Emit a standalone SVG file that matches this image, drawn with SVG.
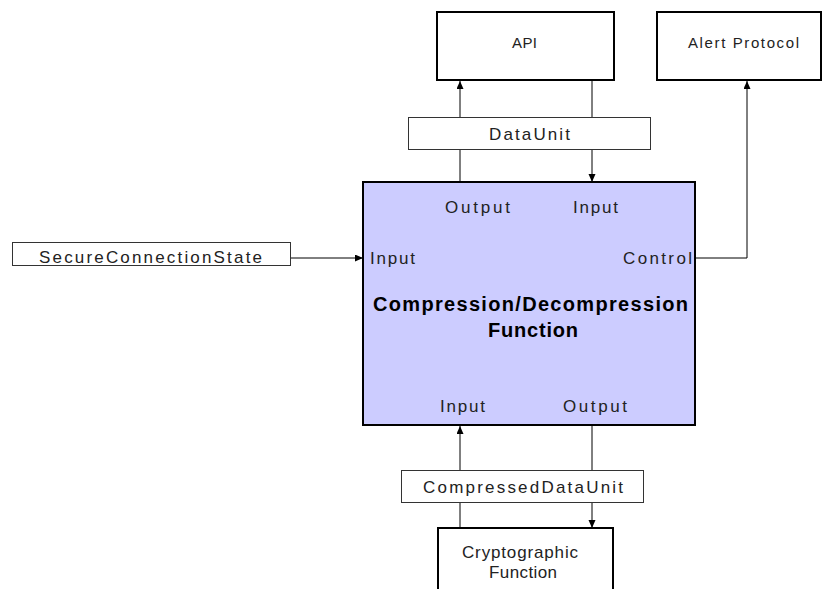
<svg xmlns="http://www.w3.org/2000/svg" width="823" height="589" viewBox="0 0 823 589">
  <style>
    .box { fill: #ffffff; stroke: #000000; stroke-width: 2; }
    .tag { fill: #ffffff; stroke: #333333; stroke-width: 1; }
    .main { fill: #ccccff; stroke: #000000; stroke-width: 2; }
    .wire { fill: none; stroke: #000000; stroke-width: 1; }
    text { font-family: "Liberation Sans", Arial, sans-serif; font-size: 17px; fill: #222222; }
    .small { font-size: 15px; }
    .title { font-size: 20px; font-weight: bold; fill: #000000; }
  </style>
  <defs>
    <marker id="arrow" markerUnits="userSpaceOnUse" markerWidth="8" markerHeight="8" refX="8" refY="3.5" orient="auto">
      <path d="M0,0 L8,3.5 L0,7 z" fill="#000000"/>
    </marker>
  </defs>

  <rect width="823" height="589" fill="#ffffff"/>

  <!-- connectors -->
  <g id="connectors">
    <line class="wire" x1="460" y1="182" x2="460" y2="81" marker-end="url(#arrow)"/>
    <line class="wire" x1="592" y1="81" x2="592" y2="182" marker-end="url(#arrow)"/>
    <polyline class="wire" points="695,258 747,258 747,81" marker-end="url(#arrow)"/>
    <line class="wire" x1="290" y1="258" x2="363" y2="258" marker-end="url(#arrow)"/>
    <line class="wire" x1="460" y1="528" x2="460" y2="426" marker-end="url(#arrow)"/>
    <line class="wire" x1="592" y1="426" x2="592" y2="528" marker-end="url(#arrow)"/>
  </g>

  <g id="api">
    <rect class="box" x="437" y="12" width="177" height="68"/>
    <text class="small" x="512" y="48" textLength="25" lengthAdjust="spacing">API</text>
  </g>

  <g id="alert-protocol">
    <rect class="box" x="657" y="12" width="164" height="68"/>
    <text class="small" x="688" y="48" textLength="111" lengthAdjust="spacing">Alert Protocol</text>
  </g>

  <g id="data-unit">
    <rect class="tag" x="408.5" y="117.5" width="242" height="32"/>
    <text x="489" y="140" textLength="81" lengthAdjust="spacing">DataUnit</text>
  </g>

  <g id="secure-connection-state">
    <rect class="tag" x="12.5" y="242.5" width="278" height="23"/>
    <text x="39" y="263" textLength="223" lengthAdjust="spacing">SecureConnectionState</text>
  </g>

  <g id="compression-function">
    <rect class="main" x="363" y="182" width="332" height="243"/>
    <text x="445" y="213" textLength="65" lengthAdjust="spacing">Output</text>
    <text x="573" y="213" textLength="45" lengthAdjust="spacing">Input</text>
    <text x="370" y="264" textLength="45" lengthAdjust="spacing">Input</text>
    <text x="623" y="264" textLength="69" lengthAdjust="spacing">Control</text>
    <text class="title" x="373" y="311" textLength="315" lengthAdjust="spacing">Compression/Decompression</text>
    <text class="title" x="488" y="337" textLength="90" lengthAdjust="spacing">Function</text>
    <text x="440" y="412" textLength="45" lengthAdjust="spacing">Input</text>
    <text x="563" y="412" textLength="64" lengthAdjust="spacing">Output</text>
  </g>

  <g id="compressed-data-unit">
    <rect class="tag" x="401.5" y="470.5" width="242" height="32"/>
    <text x="423" y="493" textLength="200" lengthAdjust="spacing">CompressedDataUnit</text>
  </g>

  <g id="cryptographic-function">
    <rect class="box" x="438" y="528" width="175" height="70"/>
    <text x="462" y="558" textLength="116" lengthAdjust="spacing">Cryptographic</text>
    <text x="489" y="578" textLength="68" lengthAdjust="spacing">Function</text>
  </g>
</svg>
